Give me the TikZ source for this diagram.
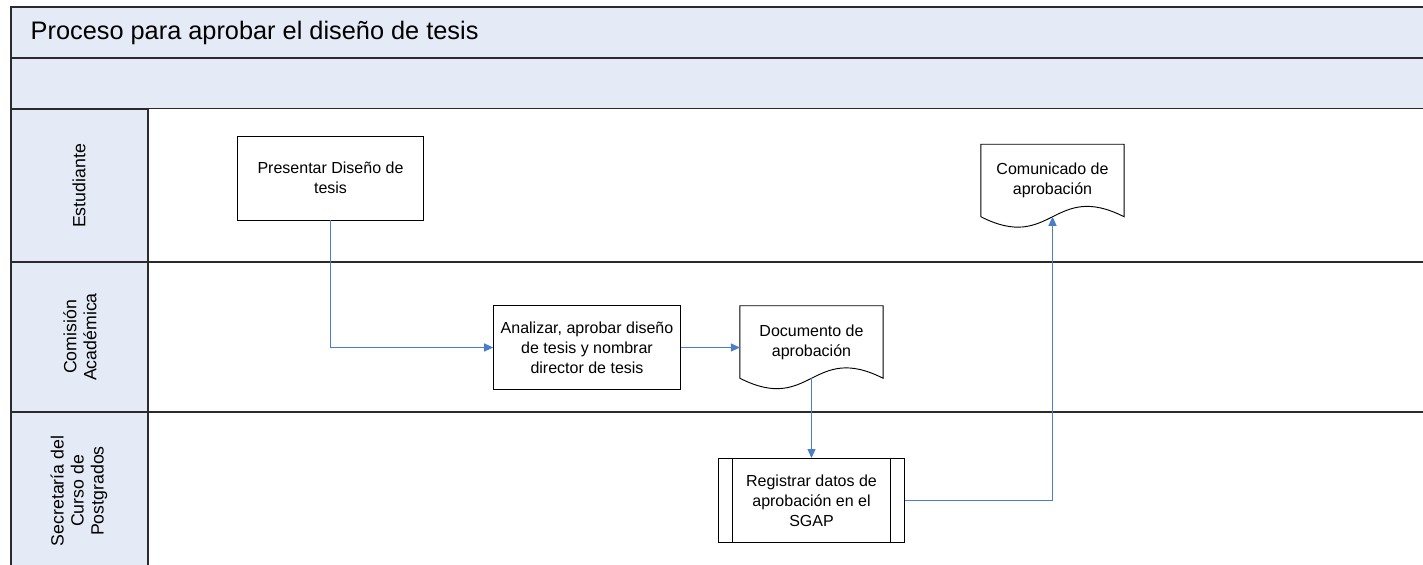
\documentclass[tikz,border=0pt]{standalone}
\usepackage{fontspec}
\setmainfont{Liberation Sans}
\usetikzlibrary{arrows.meta,calc}
\definecolor{chead}{HTML}{E4EBF6}
\definecolor{cflow}{HTML}{4A7EC7}
\definecolor{cline}{HTML}{2B2B2B}
\tikzset{
  >={Triangle[length=6.75pt,width=6pt]},
  band/.style={draw=cline,line width=1.2pt,fill=chead},
  sep/.style={draw=cline,line width=1.2pt},
  task/.style={draw=black,line width=0.7pt,fill=white,align=center,
               minimum width=140pt,minimum height=63pt,inner sep=2pt},
  docbox/.style={align=center,minimum width=107pt,minimum height=54pt,inner sep=2pt},
  lane/.style={rotate=90,align=center,font=\fontsize{13.3}{15}\selectfont},
  flow/.style={->,draw=cflow,line width=0.8pt},
}
% document symbol with wavy bottom, drawn round a named node
\newcommand{\docoutline}[1]{%
  \draw[line width=0.7pt] (#1.south west) -- (#1.north west) -- (#1.north east) -- (#1.south east)
    .. controls ($(#1.south east)+(-71,-36)$) and ($(#1.south west)+(71,36)$) .. (#1.south west);}

\begin{document}
\begin{tikzpicture}[x=0.75pt,y=-0.75pt,font=\fontsize{12}{15}\selectfont]
\useasboundingbox (0,0) rectangle (1423,564);

% ================= POOL HEADER =================
\draw[band] (11,7) rectangle (1440,58);
\draw[band] (11,58) rectangle (1440,109);
\node[font=\fontsize{19}{22}\selectfont,anchor=west] (ttl) at (26,33) {Proceso para aprobar el diseño de tesis};

% ================= LANES =================
\fill[white] (148,109) rectangle (1440,580);
\draw[band] (11,109) rectangle (148,580);
\draw[sep] (11,262) -- (1440,262);
\draw[sep] (11,412) -- (1440,412);
\node[lane] (lest) at (79,186) {Estudiante};
\node[lane] (lcom) at (80,337) {Comisión\\Académica};
\node[lane] (lsec) at (79,491) {Secretaría del\\Curso de\\Postgrados};

% ================= TASKS =================
\node[task] (pres) at (330.5,178) {Presentar Diseño de\\tesis};
\node[task] (anal) at (587,347.5) {Analizar, aprobar diseño\\de tesis y nombrar\\director de tesis};
\node[docbox] (docapr) at (811.5,342) {Documento de\\aprobación};
\docoutline{docapr}
\node[task] (reg) at (811.5,500.5) {Registrar datos de\\aprobación en el\\SGAP};
\draw[line width=0.7pt] ($(reg.north west)+(15,0)$) -- ($(reg.south west)+(15,0)$);
\draw[line width=0.7pt] ($(reg.north east)+(-15,0)$) -- ($(reg.south east)+(-15,0)$);
\node[docbox] (comun) at (1052.5,180.5) {Comunicado de\\aprobación};
\docoutline{comun}

% ================= FLOW =================
\draw[flow] (pres.south) |- (anal.west);
\draw[flow] (anal.east) -- (anal.east -| docapr.west);
\draw[flow] (docapr.south) -- (reg.north);
\draw[flow] (reg.east) -| (comun.south);

\end{tikzpicture}
\end{document}
